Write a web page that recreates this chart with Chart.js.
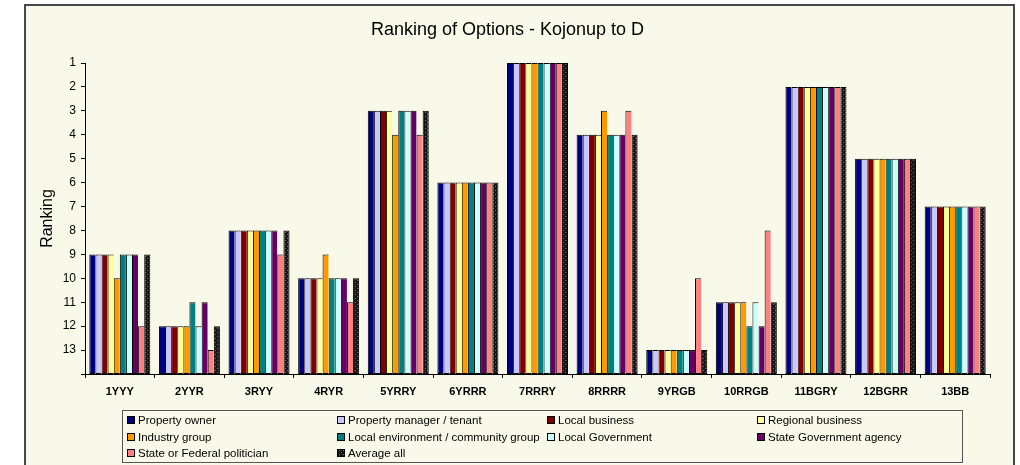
<!DOCTYPE html>
<html>
<head>
<meta charset="utf-8">
<script src="https://cdn.jsdelivr.net/npm/chart.js@4.4.1/dist/chart.umd.min.js"></script>
<style>
  html, body { margin: 0; padding: 0; background: #fff; }
  canvas { display: block; }
</style>
</head>
<body>
<canvas id="chart" width="1020" height="465"></canvas>
<script>
// Ranking chart: 1 = best, so the value axis runs upside down and every bar
// grows up from the floor of the axis (rank 14) to its rank.
const categories = ["1YYY", "2YYR", "3RYY", "4RYR", "5YRRY", "6YRRR", "7RRRY",
                    "8RRRR", "9YRGB", "10RRGB", "11BGRY", "12BGRR", "13BB"];
const rankTicks = [1, 2, 3, 4, 5, 6, 7, 8, 9, 10, 11, 12, 13];
const rankFloor = 14;

const seriesNames = [
  "Property owner", "Property manager / tenant", "Local business", "Regional business",
  "Industry group", "Local environment / community group", "Local Government",
  "State Government agency", "State or Federal politician", "Average all",
];

const propertyOwner    = [9, 12, 8, 10, 3, 6, 1, 4, 13, 11, 2, 5, 7];
const propertyManager  = [9, 12, 8, 10, 3, 6, 1, 4, 13, 11, 2, 5, 7];
const localBusiness    = [9, 12, 8, 10, 3, 6, 1, 4, 13, 11, 2, 5, 7];
const regionalBusiness = [9, 12, 8, 10, 3, 6, 1, 4, 13, 11, 2, 5, 7];
const industryGroup    = [10, 12, 8, 9, 4, 6, 1, 3, 13, 11, 2, 5, 7];
const localEnvironment = [9, 11, 8, 10, 3, 6, 1, 4, 13, 12, 2, 5, 7];
const localGovernment  = [9, 12, 8, 10, 3, 6, 1, 4, 13, 11, 2, 5, 7];
const stateAgency      = [9, 11, 8, 10, 3, 6, 1, 4, 13, 12, 2, 5, 7];
const politician       = [12, 13, 9, 11, 4, 6, 1, 3, 10, 8, 2, 5, 7];
const averageAll       = [9, 12, 8, 10, 3, 6, 1, 4, 13, 11, 2, 5, 7];

const seriesValues = [propertyOwner, propertyManager, localBusiness, regionalBusiness,
  industryGroup, localEnvironment, localGovernment, stateAgency, politician, averageAll];

// dark speckled fill used by Excel for the "Average all" series
function speckle() {
  const c = document.createElement("canvas");
  c.width = 4; c.height = 4;
  const g = c.getContext("2d");
  g.fillStyle = "#161616";
  g.fillRect(0, 0, 4, 4);
  g.fillStyle = "#6e6e6e";
  g.fillRect(1, 0, 1, 1);
  g.fillRect(3, 2, 1, 1);
  return g.createPattern(c, "repeat");
}

const seriesColors = ["#000080", "#C8C8FF", "#800000", "#FFFF99", "#FF9900",
  "#008080", "#CCFFFF", "#660066", "#FF8080", speckle()];

const FONT = '"Liberation Sans", Arial, sans-serif';
Chart.defaults.font.family = FONT;
Chart.defaults.color = "#000";

// cream panel with a dark frame, as in the Excel chart area
const framePlugin = {
  id: "frame",
  beforeDraw(chart) {
    const ctx = chart.ctx;
    ctx.save();
    ctx.fillStyle = "#F8F9E8";
    ctx.fillRect(25, 5, 989, 470);
    ctx.strokeStyle = "#474747";
    ctx.lineWidth = 2;
    ctx.strokeRect(25, 5, 989, 470);
    ctx.restore();
  },
};

// four-column boxed legend under the axis
const legendBoxPlugin = {
  id: "legendBox",
  afterDraw(chart) {
    const ctx = chart.ctx;
    const cols = [127, 337, 547, 757];
    const rows = [420, 437, 453];
    ctx.save();
    ctx.strokeStyle = "#555";
    ctx.lineWidth = 1;
    ctx.strokeRect(122.5, 410.5, 840, 52);
    ctx.font = "11.5px " + FONT;
    ctx.textBaseline = "middle";
    ctx.textAlign = "left";
    chart.data.datasets.forEach((ds, i) => {
      const x = cols[i % 4];
      const y = rows[Math.floor(i / 4)];
      ctx.fillStyle = ds.backgroundColor;
      ctx.fillRect(x, y - 4, 8, 8);
      ctx.strokeStyle = "#000";
      ctx.strokeRect(x + 0.5, y - 3.5, 7, 7);
      ctx.fillStyle = "#000";
      ctx.fillText(ds.label, x + 11, y + 0.5);
    });
    ctx.restore();
  },
};

new Chart(document.getElementById("chart"), {
  type: "bar",
  data: {
    labels: categories,
    datasets: seriesNames.map((name, i) => ({
      label: name,
      data: seriesValues[i].map((v) => [rankFloor, v]),
      backgroundColor: seriesColors[i],
      borderColor: "#000",
      borderWidth: i === seriesNames.length - 1 ? 1 : { top: 1, left: 1, right: 0, bottom: 1 },
      borderSkipped: false,
      barPercentage: 1,
      categoryPercentage: 0.876,
    })),
  },
  options: {
    responsive: false,
    animation: false,
    layout: { padding: { left: 25, right: 30, top: 5, bottom: 61 } },
    scales: {
      x: {
        afterFit: (s) => { s.height = 30; },
        grid: { drawOnChartArea: false, offset: true, tickLength: 4, color: "#000" },
        border: { color: "#000", width: 1 },
        ticks: { font: { size: 11, weight: "bold" }, color: "#000", padding: 7, maxRotation: 0, autoSkip: false },
      },
      y: {
        reverse: true,
        min: rankTicks[0],
        max: rankFloor,
        afterFit: (s) => { s.width = 60; },
        afterBuildTicks: (s) => { s.ticks = rankTicks.concat([rankFloor]).map((v) => ({ value: v })); },
        grid: { drawOnChartArea: false, tickLength: 4, color: "#000" },
        border: { color: "#000", width: 1 },
        ticks: {
          font: { size: 12 }, color: "#000", padding: 5,
          callback: (v) => (rankTicks.includes(v) ? String(v) : ""),
        },
        title: { display: true, text: "Ranking", font: { size: 16 }, color: "#000", padding: { top: 13, bottom: 0 } },
      },
    },
    plugins: {
      legend: { display: false },
      tooltip: { enabled: false },
      title: {
        display: true,
        text: "Ranking of Options - Kojonup to D",
        font: { size: 18, weight: "normal" },
        color: "#000",
        padding: { top: 14.2, bottom: 22.2 },
      },
    },
  },
  plugins: [framePlugin, legendBoxPlugin],
});
</script>
</body>
</html>
